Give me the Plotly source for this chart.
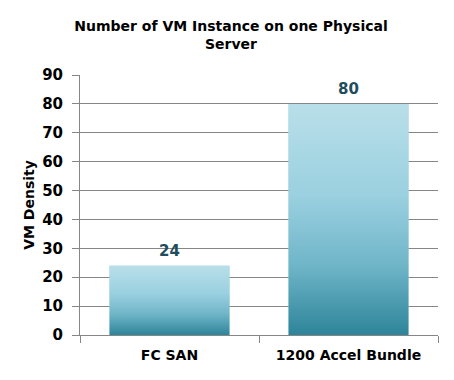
import plotly.graph_objects as go

categories = ["FC SAN", "1200 Accel Bundle"]
values = [24, 80]
y_ticks = [0, 10, 20, 30, 40, 50, 60, 70, 80, 90]
title_text = "Number of VM Instance on one Physical<br>Server"
y_title = "VM Density"

bar_width = 0.67
grad = [[0.0, "#2e8499"], [0.3, "#6fb5c8"], [0.6, "#9ad0e0"], [1.0, "#b9dfe9"]]
font_fam = "DejaVu Sans"

fig = go.Figure()
idx = list(range(len(categories)))
fig.add_trace(go.Bar(x=idx, y=values, width=bar_width, marker=dict(color="#9ad0e0", line=dict(width=0)),
                     showlegend=False))
for i, v in zip(idx, values):
    xs = [i - bar_width / 2, i + bar_width / 2, i + bar_width / 2, i - bar_width / 2, i - bar_width / 2]
    ys = [0, 0, v, v, 0]
    fig.add_trace(go.Scatter(x=xs, y=ys, mode="lines", fill="toself", line=dict(width=0),
                             fillgradient=dict(type="vertical", colorscale=grad),
                             hoverinfo="skip", showlegend=False))
    fig.add_annotation(x=i, y=v, text=str(v), showarrow=False, yanchor="bottom", yshift=4,
                       font=dict(family=font_fam, size=15, color="#1f4d5c", weight="bold"))

fig.update_layout(
    width=446, height=372,
    margin=dict(l=72, r=16, t=67, b=45),
    paper_bgcolor="white", plot_bgcolor="white",
    font=dict(family=font_fam, color="black"),
    title=dict(text=title_text, x=0.5, xref="container", xanchor="center",
               y=0.938, yref="container", yanchor="middle",
               font=dict(family=font_fam, size=14, color="black", weight="bold")),
    xaxis=dict(range=[-0.5, 1.5], tickmode="array", tickvals=idx, ticktext=categories,
               ticks="", showgrid=False, zeroline=False, showline=True, linecolor="#868686",
               automargin=False, ticklabelstandoff=7,
               tickfont=dict(family=font_fam, size=14, color="black", weight="bold"),
               minor=dict(tickmode="array", tickvals=[-0.5, 0.5, 1.5], ticks="outside",
                          ticklen=7, tickcolor="#868686", tickwidth=1, showgrid=False)),
    yaxis=dict(range=[0, 90], tickmode="array", tickvals=y_ticks, ticks="outside", ticklen=7,
               tickcolor="#868686", showgrid=True, gridcolor="#868686", gridwidth=1,
               zeroline=False, showline=True, linecolor="#868686",
               automargin=False, ticklabelstandoff=6,
               tickfont=dict(family=font_fam, size=15, color="black", weight="bold"),
               title=dict(text=y_title, standoff=4,
                          font=dict(family=font_fam, size=14, color="black", weight="bold"))),
)

fig.write_html("out.html")
